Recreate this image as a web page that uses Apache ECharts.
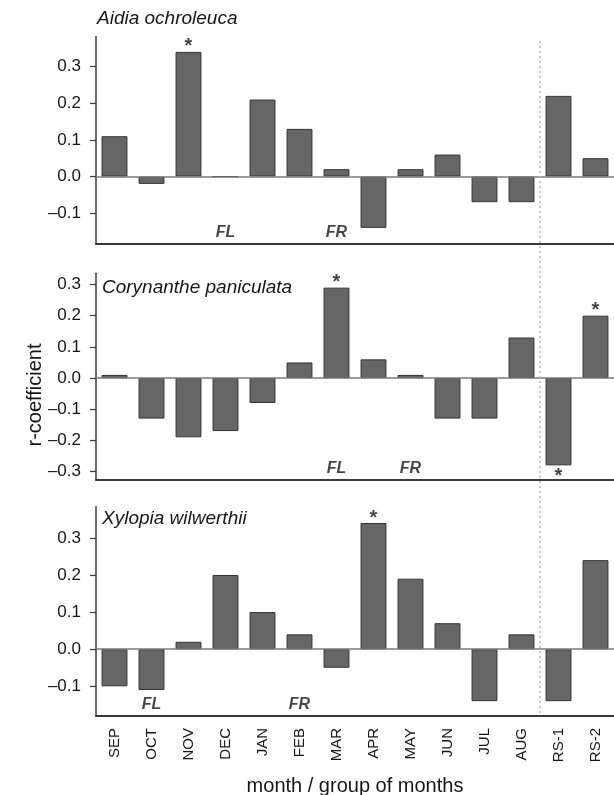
<!DOCTYPE html>
<html>
<head>
<meta charset="utf-8">
<script src="https://cdn.jsdelivr.net/npm/echarts@6/dist/echarts.min.js"></script>
<style>html,body{margin:0;padding:0;background:#fff}#chart{width:614px;height:795px}</style>
</head>
<body>
<div id="chart"></div>
<script>
// ---- data ----
const categories = ['SEP','OCT','NOV','DEC','JAN','FEB','MAR','APR','MAY','JUN','JUL','AUG','RS-1','RS-2'];
const speciesNames = ['Aidia ochroleuca','Corynanthe paniculata','Xylopia wilwerthii'];
const aidiaValues      = [0.11,-0.02,0.34,0.00,0.21,0.13,0.02,-0.14,0.02,0.06,-0.07,-0.07,0.22,0.05];
const corynantheValues = [0.01,-0.13,-0.19,-0.17,-0.08,0.05,0.29,0.06,0.01,-0.13,-0.13,0.13,-0.28,0.20];
const xylopiaValues    = [-0.10,-0.11,0.02,0.20,0.10,0.04,-0.05,0.34,0.19,0.07,-0.14,0.04,-0.14,0.24];
const aidiaSignificant      = ['NOV'];
const corynantheSignificant = ['MAR','RS-1','RS-2'];
const xylopiaSignificant    = ['APR'];
const flMonths = ['DEC','MAR','OCT'];   // FL marker per panel
const frMonths = ['MAR','MAY','FEB'];   // FR marker per panel
const ticksShort = [-0.1,0.0,0.1,0.2,0.3];
const ticksLong  = [-0.3,-0.2,-0.1,0.0,0.1,0.2,0.3];
const separatorCategory = 'RS-1';
const xAxisTitle = 'month / group of months';
const yAxisTitle = 'r-coefficient';

// ---- layout ----
const FONT = "'Liberation Sans', Arial, sans-serif";
const TEXT = '#161616';
const panels = [
  {values: aidiaValues, sig: aidiaSignificant, ticks: ticksShort, top: 36.5, height: 207.5, min: -0.184, max: 0.382},
  {values: corynantheValues, sig: corynantheSignificant, ticks: ticksLong, top: 273.3, height: 206.7, min: -0.327, max: 0.336},
  {values: xylopiaValues, sig: xylopiaSignificant, ticks: ticksShort, top: 506.7, height: 209.3, min: -0.18, max: 0.384}
];
const fmt = v => (v < 0 ? '\u2013' : '') + Math.abs(v).toFixed(1);

const grid = [], xAxis = [], yAxis = [], series = [];
panels.forEach((p, i) => {
  grid.push({left: 96, right: 0, top: p.top, height: p.height, containLabel: false, outerBoundsMode: 'none'});
  xAxis.push({
    type: 'category', gridIndex: i, data: categories, position: 'bottom',
    axisLine: {show: true, onZero: false, lineStyle: {color: '#3a3a3a', width: 2}},
    axisTick: {show: false},
    axisLabel: {show: i === 2, rotate: 90, fontSize: 15, color: TEXT, fontFamily: FONT, margin: 12},
    name: i === 2 ? xAxisTitle : '', nameLocation: 'middle', nameGap: 60,
    nameTextStyle: {fontSize: 20, color: TEXT, fontFamily: FONT},
    splitLine: {show: false}
  });
  yAxis.push({
    type: 'value', gridIndex: i, min: p.min, max: p.max,
    axisLine: {show: true, lineStyle: {color: '#3a3a3a', width: 1.5}},
    axisTick: {show: true, length: 6, customValues: p.ticks, lineStyle: {color: '#3a3a3a', width: 1.2}},
    axisLabel: {customValues: p.ticks, formatter: fmt, fontSize: 17, color: TEXT, fontFamily: FONT, margin: 15},
    splitLine: {show: false}
  });
  series.push({
    type: 'bar', xAxisIndex: i, yAxisIndex: i, data: p.values, barWidth: '70%',
    itemStyle: {color: '#666666', borderColor: '#333333', borderWidth: 1},
    silent: true, animation: false,
    markLine: {silent: true, symbol: ['none','none'], label: {show: false}, animation: false,
      lineStyle: {color: '#7a7a7a', width: 1.5, type: 'solid'}, data: [{yAxis: 0}]}
  });
  series.push({
    type: 'scatter', xAxisIndex: i, yAxisIndex: i, symbolSize: 0, silent: true, animation: false,
    data: p.sig.map(c => {
      const v = p.values[categories.indexOf(c)];
      return {value: [c, v], label: {position: v >= 0 ? 'top' : 'bottom', distance: v >= 0 ? -5 : 1}};
    }),
    label: {show: true, formatter: '*', fontSize: 20, fontWeight: 'bold', color: '#111', fontFamily: FONT}
  });
  series.push({
    type: 'scatter', xAxisIndex: i, yAxisIndex: i, symbolSize: 0, silent: true, animation: false,
    data: [{value: [flMonths[i], p.min], name: 'FL'}, {value: [frMonths[i], p.min], name: 'FR'}],
    label: {show: true, formatter: d => d.name, position: 'top', distance: 3,
      fontSize: 16, fontWeight: 'bold', fontStyle: 'italic', color: TEXT, fontFamily: FONT}
  });
});

// overlay grid for the dotted separator between AUG and RS-1
grid.push({left: 96, right: 0, top: 38, bottom: 82, containLabel: false, outerBoundsMode: 'none'});
xAxis.push({type: 'value', gridIndex: 3, min: 0, max: categories.length, show: false});
yAxis.push({type: 'value', gridIndex: 3, min: 0, max: 1, show: false});
series.push({
  type: 'line', xAxisIndex: 3, yAxisIndex: 3, data: [], showSymbol: false, silent: true, animation: false,
  markLine: {silent: true, symbol: ['none','none'], label: {show: false}, animation: false,
    lineStyle: {color: '#b8b8b8', width: 1.5, type: [2, 3]},
    data: [{xAxis: categories.indexOf(separatorCategory)}]}
});

const titleStyle = {fontSize: 19, fontStyle: 'italic', fontWeight: 'normal', color: TEXT, fontFamily: FONT};
const option = {
  animation: false,
  backgroundColor: '#fff',
  title: [
    {text: speciesNames[0], left: 97, top: 9, textStyle: titleStyle, padding: 0},
    {text: speciesNames[1], left: 102, top: 278, textStyle: titleStyle, padding: 0},
    {text: speciesNames[2], left: 102, top: 509, textStyle: titleStyle, padding: 0}
  ],
  graphic: [{
    type: 'text', x: 35, y: 395, rotation: Math.PI / 2,
    style: {text: yAxisTitle, fontSize: 20, fill: TEXT, fontFamily: FONT, align: 'center', verticalAlign: 'middle'}
  }],
  grid, xAxis, yAxis, series
};
const chart = echarts.init(document.getElementById('chart'), null, {renderer: 'canvas'});
chart.setOption(option);
</script>
</body>
</html>
